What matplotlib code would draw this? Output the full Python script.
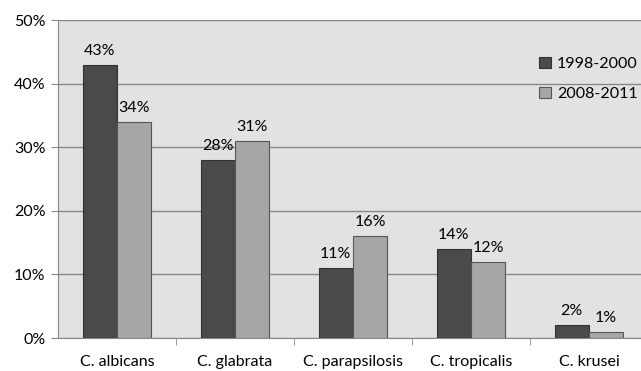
import numpy as np
import matplotlib.pyplot as plt

# data
species = ['C. albicans', 'C. glabrata', 'C. parapsilosis', 'C. tropicalis', 'C. krusei']
period_1 = [43, 28, 11, 14, 2]   # 1998-2000
period_2 = [34, 31, 16, 12, 1]   # 2008-2011
series_names = ['1998-2000', '2008-2011']

plt.rcParams['font.family'] = ['Lato', 'DejaVu Sans']

fig = plt.figure(figsize=(6.41, 3.71), dpi=100)
# axes runs slightly past the right edge, like the cropped original
ax = fig.add_axes([58 / 641, 33 / 371, 590 / 641, 318 / 371])
ax.set_facecolor('#e2e2e2')

x = np.arange(len(species))
w = 0.292
b1 = ax.bar(x - w / 2, period_1, w, color='#4a4a4a', edgecolor='#333333', linewidth=0.8,
            label=series_names[0], zorder=3)
b2 = ax.bar(x + w / 2, period_2, w, color='#a6a6a6', edgecolor='#555555', linewidth=0.8,
            label=series_names[1], zorder=3)

for bars, vals in [(b1, period_1), (b2, period_2)]:
    for r, v in zip(bars, vals):
        ax.annotate(f'{v}%', (r.get_x() + r.get_width() / 2, v), xytext=(0, 5),
                    textcoords='offset points', ha='center', va='bottom', fontsize=11.5)

ax.set_xlim(-0.5, len(species) - 0.5)
ax.set_ylim(0, 50)
ax.set_yticks(range(0, 51, 10))
ax.set_yticklabels([f'{t}%' for t in range(0, 51, 10)], fontsize=11.5)
ax.yaxis.grid(True, color='#888888', linewidth=1, zorder=0)
ax.set_axisbelow(True)

ax.set_xticks(x)
ax.set_xticklabels(species, fontsize=11.5)
ax.tick_params(axis='x', length=0, pad=12)
ax.set_xticks(np.arange(0.5, len(species) - 0.5, 1), minor=True)
ax.tick_params(axis='x', which='minor', length=5, color='#888888', direction='out')
ax.tick_params(axis='y', length=5, color='#888888', pad=4)

for s in ['top', 'right']:
    ax.spines[s].set_visible(False)
ax.spines['left'].set_color('#888888')
ax.spines['bottom'].set_color('#888888')

ax.legend(loc='upper left', bbox_to_anchor=(467 / 590, 0.93), frameon=False, fontsize=11.5,
          handlelength=0.7, handleheight=0.7, handletextpad=0.4, labelspacing=1.0)

fig.savefig('out.png', dpi=100)
